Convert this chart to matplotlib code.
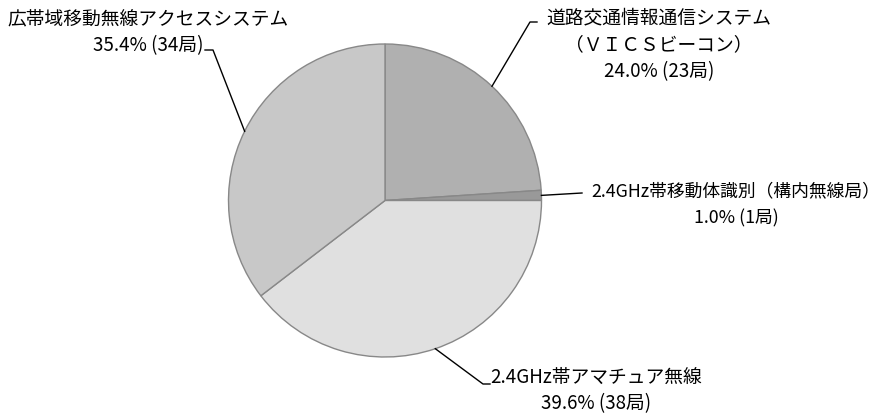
import numpy as np
import matplotlib
matplotlib.use('Agg')
from matplotlib import pyplot as plt

plt.rcParams['font.family'] = ['Noto Sans CJK JP', 'DejaVu Sans']

# station counts per system, clockwise from 12 o'clock
names = ['道路交通情報通信システム\n（ＶＩＣＳビーコン）',
         '2.4GHz帯移動体識別（構内無線局）',
         '2.4GHz帯アマチュア無線',
         '広帯域移動無線アクセスシステム']
counts = [23, 1, 38, 34]
colors = ['#b0b0b0', '#999999', '#e0e0e0', '#c8c8c8']

W, H = 883, 418
# where each label sits (pixels from top-left) and where its leader line bends
label_pos = [(659, 18), (736, 191), (596, 377), (148, 19)]
label_size = [13.5, 12.8, 13.5, 13.5]
elbows = [[(530, 22), (537, 22)],
          [(582, 193)],
          [(483, 384), (490, 384)],
          [(213, 50), (205, 50)]]
line_gap = 27

fig = plt.figure(figsize=(W / 100, H / 100), dpi=100)
ax = fig.add_axes([0, 0, 1, 1])

cx, cy, r = 385, H - 200.5, 156.5
wedges, _ = ax.pie(counts, colors=colors, startangle=90, counterclock=False,
                   center=(cx, cy), radius=r, frame=True,
                   wedgeprops=dict(edgecolor='#888888', linewidth=1))
ax.set_xlim(0, W)
ax.set_ylim(0, H)
ax.set_aspect('equal')
ax.axis('off')

total = sum(counts)
for w, name, n, (lx, ly), fs, elbow in zip(wedges, names, counts, label_pos,
                                           label_size, elbows):
    # leader line starts at the middle of the wedge's arc
    mid = np.deg2rad((w.theta1 + w.theta2) / 2)
    px = cx + r * np.cos(mid)
    py = cy + r * np.sin(mid)
    xs = [px] + [p[0] for p in elbow]
    ys = [py] + [H - p[1] for p in elbow]
    ax.plot(xs, ys, color='black', linewidth=1)
    lines = name.split('\n') + [f'{n / total * 100:.1f}% ({n}局)']
    for i, t in enumerate(lines):
        ax.text(lx, H - (ly + i * line_gap), t, ha='center', va='center',
                fontsize=fs)

fig.savefig('out.png', dpi=100)
